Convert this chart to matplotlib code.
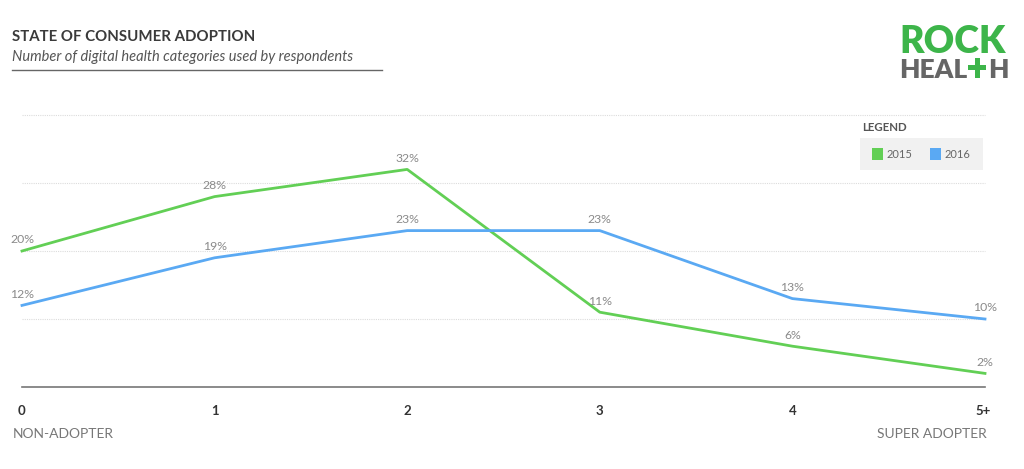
import matplotlib.pyplot as plt
from matplotlib.patches import Rectangle

# data
categorias = ['0', '1', '2', '3', '4', '5+']
valores_2015 = [20, 28, 32, 11, 6, 2]
valores_2016 = [12, 19, 23, 23, 13, 10]
grade_y = [10, 20, 30, 40]

verde = '#62cf55'
azul = '#5aa9f3'
verde_logo = '#3db54a'
cinza = '#8a8a8a'

plt.rcParams['font.family'] = ['Lato', 'DejaVu Sans']

fig = plt.figure(figsize=(10.24, 4.69), dpi=100)
W, H = 1024, 469
def fx(px): return px / W
def fy(py): return 1 - py / H

ax = fig.add_axes([fx(22), fy(387), fx(985) - fx(22), fy(115) - fy(387)])
x = list(range(len(categorias)))

for g in grade_y:
    ax.axhline(g, color='#dcdcdc', lw=0.8, ls=(0, (1, 1)), zorder=0, clip_on=False)
ax.axhline(0, color='#777777', lw=1.2, clip_on=False)

ax.plot(x, valores_2015, color=verde, lw=2, clip_on=False, zorder=3)
ax.plot(x, valores_2016, color=azul, lw=2, clip_on=False, zorder=3)

for serie in (valores_2015, valores_2016):
    for xi, v in zip(x, serie):
        ax.annotate(f'{v}%', (xi, v), xytext=(0, 4), textcoords='offset points',
                    ha='center', va='bottom', fontsize=8.8, color=cinza)

ax.set_xlim(0, 5)
ax.set_ylim(0, 40)
ax.axis('off')

# rótulos do eixo x
for xi, c in zip(x, categorias):
    ha = 'left' if xi == 0 else ('right' if xi == 5 else 'center')
    dx = -3 if xi == 0 else (4 if xi == 5 else 0)
    ax.annotate(c, (xi, 0), xytext=(dx, -13), textcoords='offset points', ha=ha, va='top',
                fontsize=9.5, fontweight='bold', color='#333333', annotation_clip=False)

fig.text(fx(13), fy(434), 'NON-ADOPTER', fontsize=10, color='#777777', va='center', ha='left')
fig.text(fx(987), fy(434), 'SUPER ADOPTER', fontsize=10, color='#777777', va='center', ha='right')

# título
fig.text(fx(12), fy(37), 'STATE OF CONSUMER ADOPTION', fontsize=10.8, fontweight='bold',
         color='#3a3a3a', va='center', ha='left')
fig.text(fx(12), fy(57), 'Number of digital health categories used by respondents', fontsize=10.5,
         style='italic', color='#555555', va='center', ha='left')
fig.add_artist(plt.Line2D([fx(12), fx(382)], [fy(70), fy(70)], color='#666666', lw=1))

# legenda
fig.text(fx(862), fy(127), 'LEGEND', fontsize=8.3, fontweight='bold', color='#555555', va='center')
fig.add_artist(Rectangle((fx(860), fy(170)), fx(983) - fx(860), fy(138) - fy(170),
                         transform=fig.transFigure, facecolor='#f1f1f1', edgecolor='none'))
fig.add_artist(Rectangle((fx(872), fy(160)), fx(11), fy(148) - fy(160),
                         transform=fig.transFigure, facecolor=verde, edgecolor='none'))
fig.text(fx(887), fy(154), '2015', fontsize=8, color='#666666', va='center')
fig.add_artist(Rectangle((fx(930), fy(160)), fx(11), fy(148) - fy(160),
                         transform=fig.transFigure, facecolor=azul, edgecolor='none'))
fig.text(fx(945), fy(154), '2016', fontsize=8, color='#666666', va='center')

# logo
fig.text(fx(899), fy(53), 'ROCK', fontsize=27, fontweight='heavy', color=verde_logo,
         va='baseline', ha='left')
renderer = fig.canvas.get_renderer()
heal = fig.text(fx(899), fy(78), 'HEAL', fontsize=19, fontweight='heavy', color='#666666',
                va='baseline', ha='left')
bb = heal.get_window_extent(renderer)
px0 = bb.x1 + 1
# cruz do "T"
fig.add_artist(Rectangle((px0 / W, fy(70)), 18 / W, 4.5 / H, transform=fig.transFigure,
                         facecolor=verde_logo, edgecolor='none'))
fig.add_artist(Rectangle(((px0 + 6.8) / W, fy(78)), 4.5 / W, 19.5 / H, transform=fig.transFigure,
                         facecolor=verde_logo, edgecolor='none'))
fig.text((px0 + 20) / W, fy(78), 'H', fontsize=19, fontweight='heavy', color='#666666',
         va='baseline', ha='left')

fig.savefig('out.png', dpi=100, facecolor='white')
